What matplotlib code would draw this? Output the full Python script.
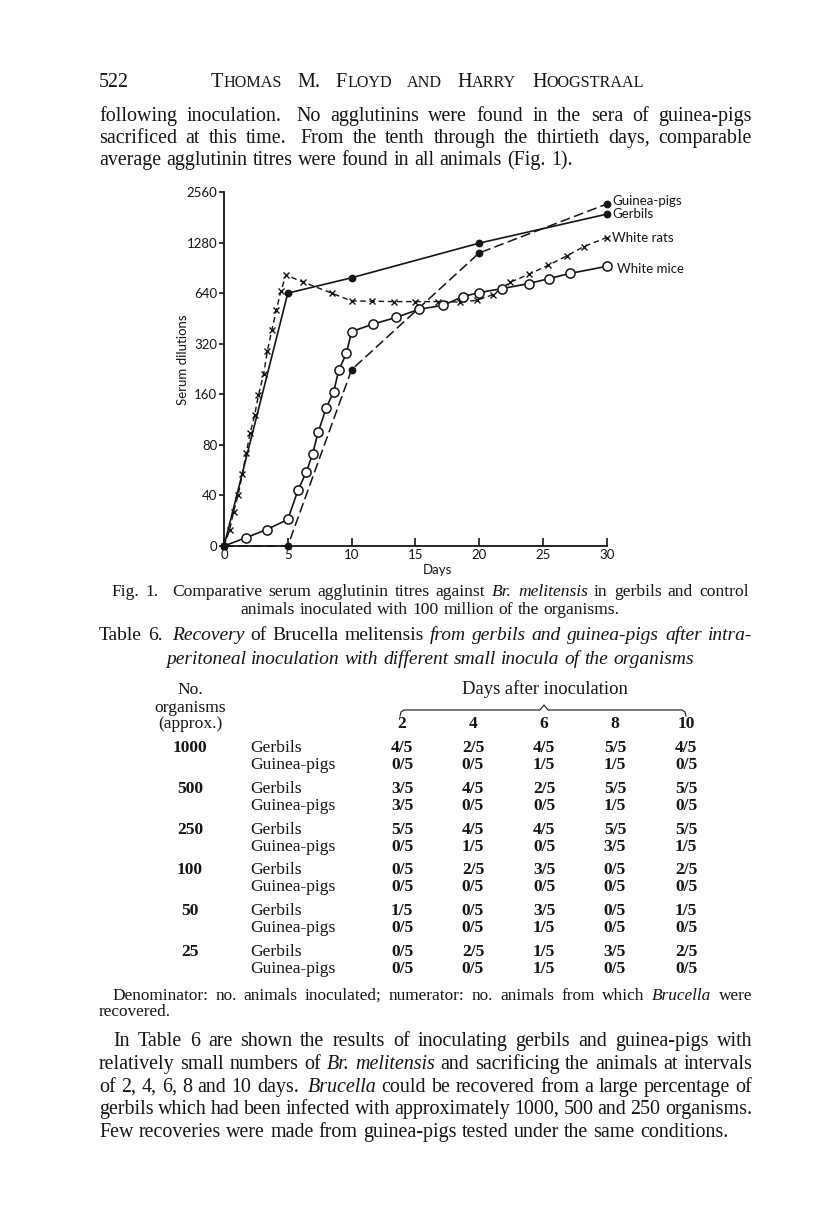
import numpy as np
import matplotlib
matplotlib.use('Agg')
import matplotlib.pyplot as plt

# Fig. 1 values: (day, titre)
gerbil_days = [0, 5, 10, 20, 30]
gerbil_titre = [0, 640, 790, 1270, 1890]

guinea_days = [0, 5, 10, 20, 30]
guinea_titre = [0, 0, 224, 1110, 2170]

rat_days = [0, 0.45, 0.75, 1.1, 1.45, 1.75, 2.05, 2.4, 2.7, 3.1, 3.4, 3.75, 4.1,
            4.45, 4.85, 6.2, 8.45, 10, 11.6, 13.3, 15, 16.8, 18.5, 19.8, 21.1,
            22.4, 23.9, 25.4, 26.9, 28.2, 30]
rat_titre = [0, 13, 27, 40, 54, 72, 94, 120, 158, 210, 290, 386, 506, 655, 820,
             745, 640, 575, 573, 570, 570, 570, 566, 580, 627, 742, 827, 937,
             1069, 1211, 1372]

mouse_days = [0, 1.7, 3.35, 5, 5.8, 6.45, 6.95, 7.4, 8.0, 8.6, 9.0, 9.6, 10, 11.7,
              13.5, 15.3, 17.2, 18.7, 20, 21.8, 23.9, 25.5, 27.1, 30]
mouse_titre = [0, 6.5, 13, 21, 43, 55, 71, 96, 132, 166, 223, 281, 378, 419, 459,
               513, 542, 610, 645, 681, 730, 782, 838, 924]

y_ticks = [0, 40, 80, 160, 320, 640, 1280, 2560]
x_ticks = [0, 5, 10, 15, 20, 25, 30]

# Table 6
days_after = [2, 4, 6, 8, 10]
organisms = [1000, 500, 250, 100, 50, 25]
gerbil_recov = [['4/5', '2/5', '4/5', '5/5', '4/5'],
                ['3/5', '4/5', '2/5', '5/5', '5/5'],
                ['5/5', '4/5', '4/5', '5/5', '5/5'],
                ['0/5', '2/5', '3/5', '0/5', '2/5'],
                ['1/5', '0/5', '3/5', '0/5', '1/5'],
                ['0/5', '2/5', '1/5', '3/5', '2/5']]
guinea_recov = [['0/5', '0/5', '1/5', '1/5', '0/5'],
                ['3/5', '0/5', '0/5', '1/5', '0/5'],
                ['0/5', '1/5', '0/5', '3/5', '1/5'],
                ['0/5', '0/5', '0/5', '0/5', '0/5'],
                ['0/5', '0/5', '1/5', '0/5', '0/5'],
                ['0/5', '0/5', '1/5', '0/5', '0/5']]

SERIF = 'Liberation Serif'
SANS = 'Lato'
INK = '#151515'

fig = plt.figure(figsize=(8.16, 12.24), dpi=100)
page = fig.add_axes([0, 0, 1, 1])
page.set_xlim(0, 816)
page.set_ylim(1224, 0)
page.axis('off')
renderer = fig.canvas.get_renderer()


def parse(line, size):
    # words wrapped in * are italic, double spaces give a wider gap
    words, gaps, extra = [], [], 0.0
    for tok in line.split(' '):
        if tok == '':
            extra += 0.6
            continue
        if words:
            gaps.append(1.0 + extra)
        extra = 0.0
        style = 'italic' if tok.startswith('*') else 'normal'
        words.append([(tok.strip('*'), size, style)])
    return words, gaps


def place(words, gaps, y, x0=None, x1=None, center=None, space=None):
    arts = [[page.text(0, y, s, fontsize=sz, fontstyle=st, family=SERIF,
                       color=INK, va='baseline') for s, sz, st in w] for w in words]
    base = words[0][0][1]
    while True:
        widths = [[a.get_window_extent(renderer).width for a in row] for row in arts]
        total = sum(sum(r) for r in widths)
        if x1 is None:
            unit = space if space is not None else base * 0.26 * 100 / 72
            if center is not None:
                x0 = center - (total + unit * sum(gaps)) / 2
            break
        unit = (x1 - x0 - total) / sum(gaps)
        if unit >= base * 0.15 * 100 / 72:
            break
        # too long for the measure: tighten the type a little
        for row in arts:
            for a in row:
                a.set_fontsize(a.get_fontsize() * 0.99)
    x = x0
    for i, (row, wr) in enumerate(zip(arts, widths)):
        for a, wa in zip(row, wr):
            a.set_x(x)
            x += wa
        if i < len(gaps):
            x += unit * gaps[i]


def line(text, y, size, x0=None, x1=None, center=None):
    w, g = parse(text, size)
    place(w, g, y, x0=x0, x1=x1, center=center)


L, R = 99, 752
body = 14.4

# running head
page.text(99, 87, '522', fontsize=body, family=SERIF, color=INK, va='baseline')
head = [('T', 'HOMAS'), ('M.', ''), ('F', 'LOYD'), ('', 'AND'), ('H', 'ARRY'),
        ('H', 'OOGSTRAAL')]
head_words = [[p for p in [(big, 14.6, 'normal'), (small, 11.6, 'normal')] if p[0]]
              for big, small in head]
place(head_words, [1.0] * (len(head) - 1), 87, x0=211, x1=644)

line('following inoculation.  No agglutinins were found in the sera of guinea-pigs', 121, body, L, R)
line('sacrificed at this time.  From the tenth through the thirtieth days, comparable', 143, body, L, R)
line('average agglutinin titres were found in all animals (Fig. 1).', 165, body, L)

# Fig. 1 chart
x_left, x_right, y_bot, y_top = 224, 606.7, 546, 192
ax = fig.add_axes([x_left / 816, 1 - y_bot / 1224, (x_right - x_left) / 816,
                   (y_bot - y_top) / 1224])
ax.patch.set_alpha(0)


def fwd(v):
    v = np.asarray(v, float)
    return np.where(v <= 40, v / 40, 1 + np.log2(np.maximum(v, 40) / 40))


def inv(p):
    p = np.asarray(p, float)
    return np.where(p <= 1, p * 40, 40 * 2 ** (np.maximum(p, 1) - 1))


ax.set_yscale('function', functions=(fwd, inv))

ax.plot(guinea_days, guinea_titre, color=INK, lw=1.1, dashes=(6.5, 2.8),
        marker='o', ms=4.6, mfc=INK, mec=INK, clip_on=False, zorder=3)
ax.plot(gerbil_days, gerbil_titre, color=INK, lw=1.2, marker='o', ms=4.6,
        mfc=INK, mec=INK, clip_on=False, zorder=4)
ax.plot(rat_days, rat_titre, color=INK, lw=1.0, dashes=(4, 2.6), marker='x',
        ms=4.6, mew=1.0, clip_on=False, zorder=3)
ax.plot(mouse_days, mouse_titre, color=INK, lw=1.2, marker='o', ms=6.6,
        mfc='white', mec=INK, mew=1.1, markevery=list(range(1, len(mouse_days))),
        clip_on=False, zorder=5)

ax.set_xlim(0, 30)
ax.set_ylim(0, 2560)
ax.set_xticks(x_ticks)
ax.set_xticklabels([str(t) for t in x_ticks])
ax.set_yticks(y_ticks)
ax.set_yticklabels([str(t) for t in y_ticks])
ax.yaxis.set_minor_locator(matplotlib.ticker.NullLocator())
for lab in ax.get_xticklabels() + ax.get_yticklabels():
    lab.set_family(SANS)
    lab.set_fontsize(9.5)
    lab.set_color(INK)
ax.tick_params(axis='x', direction='in', length=6, width=1.2, pad=2.5, colors=INK)
ax.tick_params(axis='y', direction='out', length=3.5, width=1.2, pad=1.2, colors=INK)
for side in ['top', 'right']:
    ax.spines[side].set_visible(False)
for side in ['left', 'bottom']:
    ax.spines[side].set_linewidth(1.3)
    ax.spines[side].set_color(INK)

ax.text(-0.107, 0.525, 'Serum dilutions', rotation=90, ha='center', va='center',
        transform=ax.transAxes, family=SANS, fontsize=9.5, color=INK)
ax.text(0.559, -0.068, 'Days', ha='center', va='center', transform=ax.transAxes,
        family=SANS, fontsize=9.5, color=INK)

ends = [('Guinea-pigs', guinea_days, guinea_titre, 4, 2.4),
        ('Gerbils', gerbil_days, gerbil_titre, 4, 0),
        ('White rats', rat_days, rat_titre, 4, -0.7),
        ('White mice', mouse_days, mouse_titre, 7.5, -1.6)]
for name, dd, vv, dx, dy in ends:
    ax.annotate(name, xy=(dd[-1], vv[-1]), xytext=(dx, dy), textcoords='offset points',
                ha='left', va='center', family=SANS, fontsize=9.5, color=INK,
                annotation_clip=False)

# caption
cap = 12.6
line('Fig. 1.   Comparative serum agglutinin titres against *Br.* *melitensis* in gerbils and control',
     596, cap, 111, 749)
line('animals inoculated with 100 million of the organisms.', 614, cap, center=430)

# Table 6 title
title = 14.0
line('Table 6.  *Recovery* of Brucella melitensis *from* *gerbils* *and* *guinea-pigs* *after* *intra-*',
     640, title, L, R)
line('*peritoneal* *inoculation* *with* *different* *small* *inocula* *of* *the* *organisms*',
     664, title, center=430)

tab = 12.6
col_x = [402, 473, 544, 615, 686]
page.text(190, 694, 'No.', fontsize=tab, family=SERIF, color=INK, ha='center', va='baseline')
page.text(190, 712, 'organisms', fontsize=tab, family=SERIF, color=INK, ha='center', va='baseline')
page.text(190, 728, '(approx.)', fontsize=tab, family=SERIF, color=INK, ha='center', va='baseline')
page.text(545, 694, 'Days after inoculation', fontsize=tab + 0.8, family=SERIF, color=INK,
          ha='center', va='baseline')
brace_x = [400, 401, 404, 540, 544, 548, 682, 685, 686]
brace_y = [716, 712, 710, 710, 705, 710, 710, 712, 716]
page.plot(brace_x, brace_y, color=INK, lw=0.8)
for d, x in zip(days_after, col_x):
    page.text(x, 728, str(d), fontsize=tab, family=SERIF, color=INK, fontweight='bold',
              ha='center', va='baseline')

for k, n in enumerate(organisms):
    yg = 752 + 40.8 * k
    yp = yg + 17
    page.text(190, yg, str(n), fontsize=tab, family=SERIF, color=INK, fontweight='bold',
              ha='center', va='baseline')
    page.text(250, yg, 'Gerbils', fontsize=tab, family=SERIF, color=INK, va='baseline')
    page.text(250, yp, 'Guinea-pigs', fontsize=tab, family=SERIF, color=INK, va='baseline')
    for x, a, b in zip(col_x, gerbil_recov[k], guinea_recov[k]):
        page.text(x, yg, a, fontsize=tab, family=SERIF, color=INK, fontweight='bold',
                  ha='center', va='baseline')
        page.text(x, yp, b, fontsize=tab, family=SERIF, color=INK, fontweight='bold',
                  ha='center', va='baseline')

# footnote
foot = 12.4
line('Denominator: no. animals inoculated; numerator: no. animals from which *Brucella* were',
     1000, foot, 112, R)
line('recovered.', 1016, foot, L)

# closing paragraph
line('In Table 6 are shown the results of inoculating gerbils and guinea-pigs with', 1046, body, 113, R)
line('relatively small numbers of *Br.* *melitensis* and sacrificing the animals at intervals', 1069, body, L, R)
line('of 2, 4, 6, 8 and 10 days.  *Brucella* could be recovered from a large percentage of', 1092, body, L, R)
line('gerbils which had been infected with approximately 1000, 500 and 250 organisms.', 1114, body, L, R)
line('Few recoveries were made from guinea-pigs tested under the same conditions.', 1137, body, L)

fig.savefig('out.png', dpi=100)
